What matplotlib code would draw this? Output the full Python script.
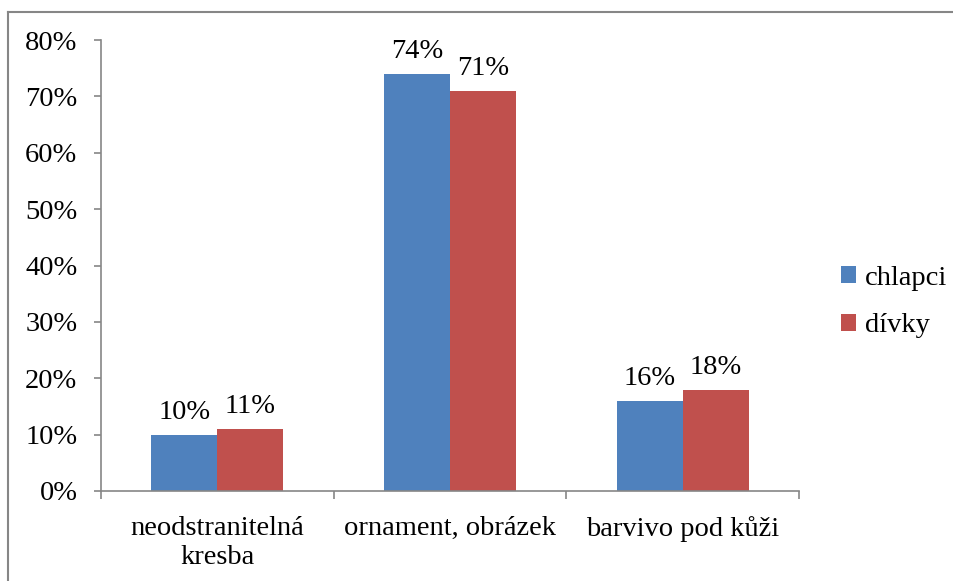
import numpy as np
import matplotlib
matplotlib.use('Agg')
import matplotlib.pyplot as plt
from matplotlib.lines import Line2D
from matplotlib.ticker import MultipleLocator, FuncFormatter

categories = ['neodstranitelná\nkresba', 'ornament, obrázek', 'barvivo pod kůži']
series_names = ['chlapci', 'dívky']
chlapci = [10, 74, 16]
divky = [11, 71, 18]
colors = ['#4F81BD', '#C0504D']
axis_grey = '#868686'

plt.rcParams['font.family'] = ['Liberation Serif', 'DejaVu Serif']
plt.rcParams['font.size'] = 20.5

W, H = 954, 581
fig = plt.figure(figsize=(W / 100, H / 100), dpi=100)
ax = fig.add_axes([101 / W, 1 - 491 / H, 698 / W, 451 / H])

x = np.arange(len(categories))
width = 0.284
values = [chlapci, divky]
for i, (name, vals) in enumerate(zip(series_names, values)):
    pos = x + (i - 0.5) * width
    bars = ax.bar(pos, vals, width, color=colors[i], label=name, zorder=2)
    for b, v in zip(bars, vals):
        ax.annotate(f'{v}%', (b.get_x() + b.get_width() / 2, v),
                    xytext=(0, 7), textcoords='offset points',
                    ha='center', va='bottom')

ax.set_xlim(-0.5, len(categories) - 0.5)
ax.set_ylim(0, 80)
ax.yaxis.set_major_locator(MultipleLocator(10))
ax.yaxis.set_major_formatter(FuncFormatter(lambda v, p: f'{int(v)}%'))

# category labels at centres, tick marks at category boundaries
ax.set_xticks(x)
ax.set_xticklabels(categories, linespacing=1.2)
ax.tick_params(axis='x', length=0, pad=18)
ax.set_xticks(np.arange(len(categories) + 1) - 0.5, minor=True)
ax.tick_params(axis='x', which='minor', length=6, color=axis_grey, width=1.2)
ax.tick_params(axis='y', length=5, color=axis_grey, width=1.2, pad=12)

for side in ['top', 'right']:
    ax.spines[side].set_visible(False)
for side in ['left', 'bottom']:
    ax.spines[side].set_color(axis_grey)
    ax.spines[side].set_linewidth(1.2)

ax.legend(loc='center left', bbox_to_anchor=(815 / W, 1 - 302 / H),
          bbox_transform=fig.transFigure, frameon=False,
          handlelength=0.55, handleheight=0.55, handletextpad=0.3,
          labelspacing=0.8)

# chart border (top and left edges visible)
fig.add_artist(Line2D([8 / W, 1], [1 - 12 / H, 1 - 12 / H], color=axis_grey, lw=1.5))
fig.add_artist(Line2D([8 / W, 8 / W], [0, 1 - 12 / H], color=axis_grey, lw=1.5))

fig.savefig('out.png', dpi=100)
